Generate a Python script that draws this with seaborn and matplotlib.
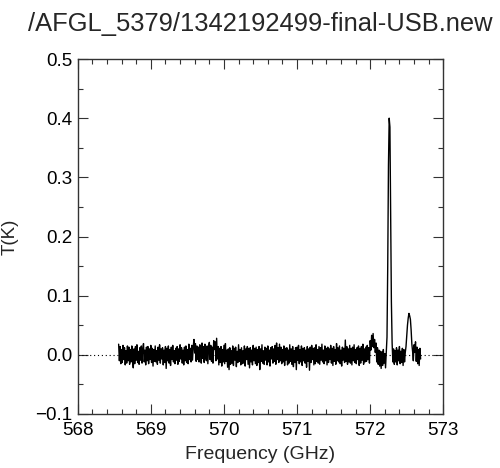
import numpy as np
import pandas as pd
import matplotlib
matplotlib.use("Agg")
import matplotlib.pyplot as plt
import seaborn as sns
from matplotlib.ticker import MultipleLocator

TITLE = "/AFGL_5379/1342192499-final-USB.new"
X_LABEL = "Frequency (GHz)"
Y_LABEL = "T(K)"

# channel grid of the spectrum (GHz)
FREQ_START = 568.56
CHANNEL_WIDTH = 0.01

# antenna temperature per channel, in mK
T_MK = [
    18, -10, 14, -15, 9, -13, 16, -8, 12, -17,     # 568.56
    7, -14, 15, -10, 13, -16, 9, -12, 15, -8,
    -22, 10, -15, 14, -9, 17, -13, 6, -16, 12,
    -9, 15, -14, 11, 19, -12, 8, -17, 13, -10,
    14, -15, 10, -8, 16, -13, 11, -19, 9, -11,     # 568.96
    15, -12, 7, -16, 13, -9, 17, -14, 10, -7,
    12, -17, 8, -13, 14, -23, 11, -10, 15, -14,
    9, -18, 13, -8, 16, -12, 7, -15, 11, -9,
    14, -16, 10, -11, 17, -7, 12, -14, 8, -17,
    13, -10, 15, -13, 9, -15, 18, -8, 11, -12,     # 569.46
    16, -9, 14, 26, 3, 19, -11, 15, -8, 13,
    -12, 17, 7, -14, 20, -6, 14, -13, 18, -5,
    -10, 15, -15, 12, 21, -8, 16, -11, 13, -14,
    24, 9, 22, -10, 28, -7, 14, -17, 11, -13,
    14, -19, 9, -12, 16, -15, 19, -11, 8, -21,     # 569.96
    10, -25, 12, -16, 7, -14, 15, -18, 11, -9,
    13, -20, 6, -13, 17, -11, 9, -17, 12, -15,
    7, -14, 15, -19, 10, -8, 14, -16, 11, -22,
    12, -12, 8, -17, 16, -10, 11, -15, 13, -18,
    9, -13, 14, -25, 10, -11, 17, -14, 7, -16,     # 570.46
    13, -9, 11, -17, 15, -12, 8, -19, 12, -7,
    14, -14, 10, -11, 16, -16, 20, -8, 12, -13,
    18, -10, 13, -15, 9, -12, 15, -18, 11, -9,
    12, -17, 8, -14, 17, -11, 10, -16, 14, -20,
    7, -13, 12, -25, 13, -9, 16, -15, 9, -12,      # 570.96
    15, -18, 11, -10, 12, -14, 8, -21, 14, -11,
    10, -26, 13, -13, 16, -8, 11, -17, 12, -15,
    17, -11, 9, -14, 14, -16, 12, -9, 18, -12,
    8, -15, 15, -10, 11, -17, 13, -13, 10, -8,
    16, -14, 11, -18, 14, -11, 9, -16, 19, -10,    # 571.46
    12, -12, 15, -15, 8, -19, 13, -9, 11, -13,
    25, -11, 14, -16, 10, -12, 16, -14, 11, -17,
    13, -10, 17, -13, 9, -15, 12, -8, 15, -18,
    11, -14, 14, -9, 18, -16, 10, -12, 13, -11,
    16, -8, 12, -14, 24, 8, 33, 14, 36, 12,        # 571.96
    26, 4, 20, -12, 12, -16, 8, -19, 6, -23,
    5, -18, 9, -14, 2, -22, 6, 30, 150, 320,
    400, 385, 230, 90, 20, -12, 10, -16, 7, -12,   # 572.26
    12, -17, 8, -10, 14, -15, 6, -13, 11, -18,
    9, -12, 4, 14, 32, 50, 62, 70, 66, 60,         # 572.46
    42, 18, 6, -10, 17, 4, 22, -11, 13, -15,
    9, -18, 11, -7,
]


def main():
    sns.set_theme(style="ticks")
    plt.rcParams["font.family"] = ["Liberation Sans", "DejaVu Sans"]

    temp = np.array(T_MK) / 1000.0
    freq = FREQ_START + CHANNEL_WIDTH * np.arange(len(temp))
    df = pd.DataFrame({"freq": freq, "T": temp})

    fig = plt.figure(figsize=(5.0, 4.68), dpi=100)
    ax = fig.add_axes([0.1554, 0.1154, 0.7312, 0.7585])

    ax.axhline(0, color="black", lw=0.8, ls=(0, (1, 2.5)), zorder=1)
    sns.lineplot(data=df, x="freq", y="T", color="black", lw=1.0,
                 estimator=None, sort=False, ax=ax, zorder=2)

    ax.set_xlim(568, 573)
    ax.set_ylim(-0.1, 0.5)
    ax.xaxis.set_major_locator(MultipleLocator(1))
    ax.xaxis.set_minor_locator(MultipleLocator(0.2))
    ax.yaxis.set_major_locator(MultipleLocator(0.1))
    ax.yaxis.set_minor_locator(MultipleLocator(0.05))
    ax.yaxis.set_major_formatter(plt.FuncFormatter(lambda v, p: f"{v:.1f}".replace("-", "\u2212")))

    ax.tick_params(which="both", direction="in", top=True, right=True,
                   color="#333333", labelsize=13.5, labelcolor="black")
    ax.tick_params(which="major", length=7, width=0.8)
    ax.tick_params(which="minor", length=3.5, width=0.8)
    ax.tick_params(axis="x", pad=6)
    ax.tick_params(axis="y", pad=4)
    for s in ax.spines.values():
        s.set_visible(True)
        s.set_color("#333333")
        s.set_linewidth(1.0)

    ax.set_xlabel(X_LABEL, fontsize=14, labelpad=5)
    ax.set_ylabel(Y_LABEL, fontsize=13.5, labelpad=12)
    ax.set_title(TITLE, fontsize=18.4, pad=20)

    fig.savefig("out.png", dpi=100)
    plt.close(fig)


if __name__ == "__main__":
    main()
